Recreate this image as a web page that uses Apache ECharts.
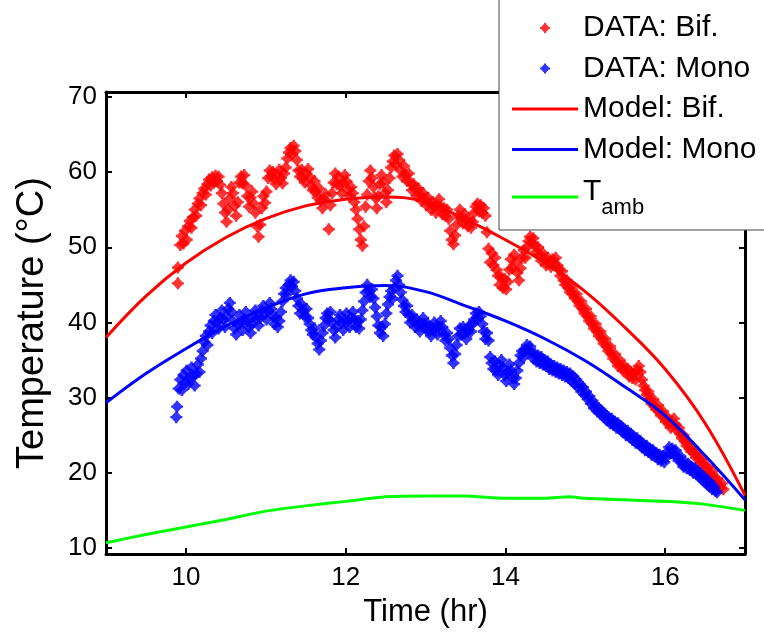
<!DOCTYPE html>
<html><head><meta charset="utf-8">
<script src="https://cdn.jsdelivr.net/npm/echarts@6/dist/echarts.min.js"></script>
<style>html,body{margin:0;padding:0;background:#fff;}#c{width:764px;height:641px;}</style>
</head><body><div id="c"></div>
<script>
// ---- data ----
var xTicks = [10, 12, 14, 16];
var yTicks = [10, 20, 30, 40, 50, 60, 70];

var dataBif = [
[9.90,45.2],[9.90,47.3],[9.93,50.3],[9.95,51.5],[9.97,50.5],[9.99,52.2],[10.01,51.0],[10.03,52.8],[10.05,53.5],[10.07,52.6],
[10.09,54.0],[10.11,55.0],[10.13,54.2],[10.15,55.8],[10.17,56.5],[10.19,55.6],[10.21,57.2],[10.23,57.8],[10.25,57.0],[10.27,58.4],
[10.29,59.0],[10.31,58.2],[10.33,59.3],[10.35,58.6],[10.37,59.5],[10.39,58.8],[10.41,59.4],[10.43,58.3],[10.45,57.2],[10.47,55.8],
[10.49,54.6],[10.51,53.4],[10.53,55.0],[10.55,56.5],[10.57,58.0],[10.59,57.2],[10.61,55.5],[10.63,54.2],[10.65,56.0],[10.67,58.6],
[10.69,59.4],[10.71,58.5],[10.73,59.6],[10.75,58.2],[10.77,56.8],[10.79,55.4],[10.81,56.6],[10.83,57.4],[10.85,55.8],[10.87,54.6],
[10.89,52.8],[10.91,51.4],[10.93,53.0],[10.95,55.2],[10.97,56.8],[10.99,55.9],[11.01,57.4],[11.03,59.2],[11.05,60.2],[11.07,59.4],
[11.09,60.0],[11.11,59.1],[11.13,58.4],[11.15,59.6],[11.17,60.3],[11.19,59.2],[11.21,58.5],[11.23,59.8],[11.25,60.6],[11.27,61.8],
[11.29,62.6],[11.31,63.2],[11.33,62.4],[11.35,63.5],[11.37,62.8],[11.39,61.6],[11.41,60.2],[11.43,59.4],[11.45,60.3],[11.47,59.2],
[11.49,58.6],[11.51,59.8],[11.53,60.4],[11.55,59.3],[11.57,58.2],[11.59,57.6],[11.61,58.8],[11.63,57.4],[11.65,56.6],[11.67,57.8],
[11.69,56.2],[11.71,55.2],[11.73,56.4],[11.75,57.0],[11.79,52.4],[11.81,55.6],[11.83,57.2],[11.85,58.6],[11.87,59.8],[11.89,58.4],
[11.91,59.4],[11.93,58.2],[11.95,57.2],[11.97,58.6],[11.99,59.6],[12.01,58.8],[12.03,57.6],[12.05,56.8],[12.07,58.0],[12.09,57.2],
[12.11,56.0],[12.13,55.0],[12.15,53.8],[12.17,52.4],[12.19,51.0],[12.21,50.2],[12.23,52.8],[12.25,55.4],[12.27,57.0],[12.29,58.8],
[12.31,60.2],[12.33,59.2],[12.35,58.0],[12.37,56.6],[12.39,55.2],[12.41,56.8],[12.43,58.4],[12.45,59.6],[12.47,58.6],[12.49,57.2],
[12.51,56.0],[12.53,57.6],[12.55,59.2],[12.57,60.6],[12.59,61.4],[12.61,62.2],[12.63,61.0],[12.65,62.4],[12.67,61.6],[12.69,60.2],
[12.71,59.4],[12.73,60.8],[12.75,59.6],[12.77,58.8],[12.79,59.8],[12.81,58.6],[12.83,57.6],[12.85,58.4],[12.87,57.8],[12.89,56.8],
[12.91,57.8],[12.93,57.0],[12.95,56.2],[12.97,57.2],[12.99,56.4],[13.01,55.6],[13.03,56.6],[13.05,55.8],[13.07,55.0],[13.09,56.0],
[13.11,55.4],[13.13,54.6],[13.15,55.6],[13.17,56.4],[13.19,55.4],[13.21,54.4],[13.23,55.2],[13.25,54.2],[13.27,55.0],[13.29,53.8],
[13.31,52.2],[13.33,51.0],[13.35,50.4],[13.37,51.6],[13.39,53.0],[13.41,54.2],[13.43,55.0],[13.45,54.0],[13.47,53.2],[13.49,54.4],
[13.51,53.6],[13.53,52.8],[13.55,53.6],[13.57,52.6],[13.59,53.4],[13.61,54.6],[13.63,55.4],[13.65,55.8],[13.67,54.8],[13.69,55.6],
[13.71,54.6],[13.73,55.2],[13.75,54.2],[13.77,52.0],[13.79,49.8],[13.81,48.0],[13.83,49.2],[13.85,47.6],[13.87,48.6],[13.89,47.0],
[13.91,46.2],[13.93,45.0],[13.95,46.0],[13.97,44.6],[13.99,45.8],[14.01,44.4],[14.03,45.4],[14.05,47.0],[14.07,48.4],[14.09,47.2],
[14.11,49.0],[14.13,48.0],[14.15,46.6],[14.17,45.6],[14.19,47.2],[14.21,48.6],[14.23,49.6],[14.25,48.6],[14.27,50.0],[14.29,50.8],
[14.31,51.4],[14.33,50.6],[14.35,51.2],[14.37,50.2],[14.39,49.4],[14.41,50.0],[14.43,49.0],[14.45,48.2],[14.47,49.2],[14.49,48.4],
[14.51,47.6],[14.53,48.6],[14.55,48.0],[14.57,47.4],[14.59,48.4],[14.61,47.8],[14.63,48.6],[14.65,47.6],[14.67,47.0],[14.69,46.2],
[14.71,46.8],[14.73,45.6],[14.75,45.0],[14.77,45.6],[14.79,44.6],[14.81,44.0],[14.83,44.8],[14.85,43.8],[14.87,43.2],[14.89,43.8],
[14.91,42.8],[14.93,42.2],[14.95,42.8],[14.97,41.8],[14.99,41.2],[15.01,41.8],[15.03,40.8],[15.05,40.2],[15.07,40.8],[15.09,39.8],
[15.11,39.2],[15.13,39.8],[15.15,38.8],[15.17,38.2],[15.19,38.8],[15.21,37.8],[15.23,37.2],[15.25,37.8],[15.27,36.8],[15.29,36.2],
[15.31,36.8],[15.33,35.8],[15.35,35.2],[15.37,35.8],[15.39,34.8],[15.41,34.2],[15.43,35.0],[15.45,34.2],[15.47,33.6],[15.49,34.2],
[15.51,33.4],[15.53,33.8],[15.55,32.8],[15.57,33.4],[15.59,32.6],[15.61,33.2],[15.63,32.4],[15.65,33.6],[15.67,34.2],[15.69,33.4],
[15.71,32.4],[15.73,31.6],[15.75,31.0],[15.77,30.4],[15.79,30.8],[15.81,29.8],[15.83,29.2],[15.85,29.8],[15.87,28.8],[15.89,28.4],
[15.91,29.0],[15.93,28.2],[15.95,27.6],[15.97,28.2],[15.99,27.4],[16.01,26.8],[16.03,27.4],[16.05,26.6],[16.07,26.0],[16.09,26.6],
[16.11,27.2],[16.13,26.4],[16.15,25.6],[16.17,26.0],[16.19,25.2],[16.21,24.6],[16.23,25.0],[16.25,24.2],[16.27,23.6],[16.29,24.0],
[16.31,23.2],[16.33,22.8],[16.35,23.4],[16.37,22.6],[16.39,22.0],[16.41,22.6],[16.43,21.8],[16.45,21.2],[16.47,21.8],[16.49,21.0],
[16.51,20.4],[16.53,20.8],[16.55,20.0],[16.57,19.6],[16.59,20.2],[16.61,19.4],[16.63,18.8],[16.65,19.2],[16.67,18.4],[16.69,18.0],
[16.71,18.6],[16.73,17.8]
];

var dataMono = [
[9.88,27.4],[9.89,28.8],[9.91,31.2],[9.93,32.4],[9.95,31.0],[9.97,33.0],[9.99,32.0],[10.01,33.6],[10.03,31.8],[10.05,32.6],
[10.07,34.0],[10.09,32.8],[10.11,31.6],[10.13,33.2],[10.15,34.4],[10.17,33.4],[10.19,35.2],[10.21,36.2],[10.23,37.4],[10.25,38.2],
[10.27,37.0],[10.29,38.8],[10.31,39.6],[10.33,38.6],[10.35,40.2],[10.37,41.0],[10.39,40.0],[10.41,39.2],[10.43,40.6],[10.45,41.6],
[10.47,40.4],[10.49,39.4],[10.51,40.8],[10.53,41.8],[10.55,42.6],[10.57,41.4],[10.59,40.2],[10.61,39.2],[10.63,38.4],[10.65,39.8],
[10.67,41.0],[10.69,40.0],[10.71,39.0],[10.73,40.4],[10.75,41.4],[10.77,40.2],[10.79,39.4],[10.81,38.6],[10.83,39.8],[10.85,40.8],
[10.87,41.6],[10.89,40.6],[10.91,39.6],[10.93,40.6],[10.95,41.6],[10.97,42.2],[10.99,41.2],[11.01,40.4],[11.03,41.6],[11.05,42.6],
[11.07,41.8],[11.09,40.8],[11.11,39.8],[11.13,40.6],[11.15,39.4],[11.17,40.2],[11.19,41.4],[11.21,42.8],[11.23,43.8],[11.25,44.6],
[11.27,43.8],[11.29,45.0],[11.31,45.6],[11.33,44.8],[11.35,45.4],[11.37,44.2],[11.39,43.2],[11.41,42.2],[11.43,41.2],[11.45,42.4],
[11.47,41.6],[11.49,40.8],[11.51,41.8],[11.53,40.6],[11.55,39.8],[11.57,39.0],[11.59,38.4],[11.61,39.2],[11.63,38.0],[11.65,37.2],
[11.67,36.4],[11.69,37.6],[11.71,38.6],[11.73,39.6],[11.75,40.6],[11.77,41.2],[11.79,40.4],[11.81,41.4],[11.83,40.0],[11.85,39.0],
[11.87,38.0],[11.89,39.4],[11.91,40.4],[11.93,41.0],[11.95,40.0],[11.97,39.0],[11.99,40.2],[12.01,41.2],[12.03,40.2],[12.05,39.4],
[12.07,40.6],[12.09,41.4],[12.11,40.4],[12.13,39.4],[12.15,40.2],[12.17,39.2],[12.19,40.4],[12.21,41.6],[12.23,42.8],[12.25,44.0],
[12.27,45.0],[12.29,44.2],[12.31,43.4],[12.33,44.4],[12.35,43.2],[12.37,42.0],[12.39,40.8],[12.41,39.6],[12.43,38.6],[12.45,39.4],
[12.47,38.2],[12.49,39.8],[12.51,41.2],[12.53,42.4],[12.55,43.4],[12.57,44.2],[12.59,43.2],[12.61,44.6],[12.63,45.6],[12.65,46.2],
[12.67,45.0],[12.69,44.0],[12.71,43.0],[12.73,42.2],[12.75,41.4],[12.77,42.2],[12.79,41.0],[12.81,40.0],[12.83,41.0],[12.85,40.2],
[12.87,39.4],[12.89,40.4],[12.91,39.6],[12.93,38.8],[12.95,39.8],[12.97,40.6],[12.99,39.8],[13.01,39.0],[13.03,39.8],[13.05,38.8],
[13.07,38.2],[13.09,39.2],[13.11,40.0],[13.13,39.2],[13.15,38.4],[13.17,39.4],[13.19,40.2],[13.21,39.4],[13.23,38.4],[13.25,37.6],
[13.27,38.6],[13.29,37.8],[13.31,36.6],[13.33,35.6],[13.35,34.6],[13.37,35.8],[13.39,37.0],[13.41,38.2],[13.43,39.2],[13.45,38.4],
[13.47,39.4],[13.49,38.6],[13.51,37.8],[13.53,38.8],[13.55,39.6],[13.57,38.8],[13.59,39.8],[13.61,40.4],[13.63,41.2],[13.65,40.6],
[13.67,41.4],[13.69,40.8],[13.71,39.8],[13.73,38.8],[13.75,37.8],[13.77,38.6],[13.79,37.6],[13.81,35.4],[13.83,34.6],[13.85,33.8],
[13.87,34.8],[13.89,33.6],[13.91,33.0],[13.93,34.2],[13.95,35.0],[13.97,34.0],[13.99,33.0],[14.01,32.2],[14.03,33.4],[14.05,34.4],
[14.07,33.6],[14.09,32.6],[14.11,31.8],[14.13,32.6],[14.15,33.6],[14.17,34.6],[14.19,35.6],[14.21,36.2],[14.23,35.4],[14.25,36.4],
[14.27,37.0],[14.29,36.2],[14.31,36.8],[14.33,36.0],[14.35,35.2],[14.37,35.8],[14.39,34.8],[14.41,35.6],[14.43,34.6],[14.45,35.4],
[14.47,34.4],[14.49,35.0],[14.51,34.2],[14.53,34.8],[14.55,33.8],[14.57,34.4],[14.59,33.6],[14.61,34.2],[14.63,33.4],[14.65,34.0],
[14.67,33.2],[14.69,33.8],[14.71,33.0],[14.73,33.6],[14.75,32.8],[14.77,33.4],[14.79,32.6],[14.81,33.2],[14.83,32.2],[14.85,32.8],
[14.87,31.8],[14.89,32.4],[14.91,31.4],[14.93,31.8],[14.95,30.8],[14.97,31.4],[14.99,30.4],[15.01,30.8],[15.03,29.8],[15.05,30.2],
[15.07,29.2],[15.09,29.6],[15.11,28.6],[15.13,29.0],[15.15,28.2],[15.17,28.6],[15.19,27.8],[15.21,28.2],[15.23,27.4],[15.25,27.8],
[15.27,27.0],[15.29,27.4],[15.31,26.6],[15.33,27.2],[15.35,26.4],[15.37,26.8],[15.39,26.0],[15.41,26.6],[15.43,25.8],[15.45,26.2],
[15.47,25.4],[15.49,25.8],[15.51,25.0],[15.53,25.6],[15.55,24.8],[15.57,25.2],[15.59,24.4],[15.61,24.8],[15.63,24.0],[15.65,24.6],
[15.67,23.8],[15.69,24.2],[15.71,23.4],[15.73,23.8],[15.75,23.0],[15.77,23.6],[15.79,22.8],[15.81,23.2],[15.83,22.4],[15.85,23.0],
[15.87,22.2],[15.89,22.6],[15.91,21.8],[15.93,22.4],[15.95,21.6],[15.97,22.2],[15.99,21.4],[16.01,22.0],[16.03,22.8],[16.05,23.4],
[16.07,22.6],[16.09,23.2],[16.11,22.4],[16.13,23.0],[16.15,22.2],[16.17,21.6],[16.19,22.2],[16.21,21.4],[16.23,20.8],[16.25,21.4],
[16.27,20.6],[16.29,21.2],[16.31,20.4],[16.33,20.8],[16.35,20.0],[16.37,20.6],[16.39,19.8],[16.41,20.2],[16.43,19.4],[16.45,19.8],
[16.47,19.0],[16.49,19.4],[16.51,18.6],[16.53,19.0],[16.55,18.2],[16.57,18.6],[16.59,17.8],[16.61,18.2],[16.63,17.6],[16.65,17.4]
];

var modelBifT = [9.0, 9.5, 10.0, 10.5, 11.0, 11.5, 12.0, 12.5, 13.0, 13.5, 14.0, 14.5, 15.0, 15.5, 16.0, 16.5, 17.0];
var modelBifV = [38.0, 43.5, 47.9, 51.3, 53.8, 55.5, 56.4, 56.7, 56.0, 53.7, 51.0, 47.9, 44.1, 39.3, 33.8, 26.6, 17.0];

var modelMonoT = [9.0, 9.5, 10.0, 10.5, 11.0, 11.5, 12.0, 12.5, 13.0, 13.5, 14.0, 14.5, 15.0, 15.5, 16.0, 16.5, 17.0];
var modelMonoV = [29.3, 33.2, 36.5, 39.5, 41.9, 43.8, 44.6, 44.9, 44.1, 42.2, 40.2, 37.8, 34.9, 31.4, 27.6, 22.3, 16.4];

var ambT = [9.0, 9.5, 10.0, 10.5, 11.0, 11.5, 12.0, 12.5, 13.0, 13.5, 14.0, 14.5, 14.8, 15.0, 15.5, 16.0, 16.5, 17.0];
var ambV = [10.7, 11.8, 12.8, 13.8, 14.9, 15.6, 16.2, 16.8, 16.9, 16.9, 16.6, 16.6, 16.8, 16.6, 16.4, 16.2, 15.8, 15.0];

function pairs(t, v) { return t.map(function (x, i) { return [x, v[i]]; }); }

var FONT = 'Liberation Sans, Arial, Helvetica, sans-serif';
var MARK = 'path://M4,0 H6 V1 L9,4 H10 V6 H9 L6,9 V10 H4 V9 L1,6 H0 V4 H1 L4,1 Z';
var LINE_ICON = 'path://M0,0 H66 V3 H0 Z';

var chart = echarts.init(document.getElementById('c'), null, {renderer: 'canvas'});
var axisLineStyle = {color: '#000', width: 3};
var option = {
  animation: false,
  backgroundColor: '#fff',
  textStyle: {fontFamily: FONT, color: '#000'},
  grid: {left: 106, right: 19, top: 92, bottom: 87},
  legend: {
    orient: 'vertical',
    left: 499, top: -2,
    padding: [15, 30, 11, 13],
    itemWidth: 66, itemHeight: 10, itemGap: 10.5,
    backgroundColor: '#fff',
    borderColor: '#444', borderWidth: 1,
    textStyle: {fontSize: 30, lineHeight: 30, color: '#000', fontFamily: FONT,
      rich: {
        t: {fontSize: 30, lineHeight: 30, padding: [0, 0, 10, 0], fontFamily: FONT, color: '#000'},
        s: {fontSize: 22, lineHeight: 22, padding: [22, 0, 0, 0], fontFamily: FONT, color: '#000'}
      }},
    formatter: function (name) {
      if (name === 'T_amb') return '{t|T}{s|amb}';
      return name;
    },
    data: [
      {name: 'DATA: Bif.'},
      {name: 'DATA: Mono'},
      {name: 'Model: Bif.', icon: LINE_ICON},
      {name: 'Model: Mono', icon: LINE_ICON},
      {name: 'T_amb', icon: LINE_ICON}
    ]
  },
  xAxis: [{
    type: 'value', min: 9, max: 17, position: 'bottom',
    name: 'Time (hr)', nameLocation: 'middle', nameGap: 43,
    nameTextStyle: {fontSize: 31, color: '#000', fontFamily: FONT},
    axisLine: {show: true, onZero: false, lineStyle: axisLineStyle},
    axisTick: {show: true, inside: true, length: 6, lineStyle: {color: '#000', width: 2}, customValues: xTicks},
    axisLabel: {show: true, fontSize: 26, color: '#000', margin: 11, fontFamily: FONT, customValues: xTicks},
    splitLine: {show: false}
  }, {
    type: 'value', min: 9, max: 17, position: 'top',
    axisLine: {show: true, onZero: false, lineStyle: axisLineStyle},
    axisTick: {show: true, inside: true, length: 6, lineStyle: {color: '#000', width: 2}, customValues: xTicks},
    axisLabel: {show: false},
    splitLine: {show: false}
  }],
  yAxis: [{
    type: 'value', min: 9.2, max: 70.65, position: 'left',
    name: 'Temperature (°C)', nameLocation: 'middle', nameGap: 54,
    nameTextStyle: {fontSize: 38, color: '#000', fontFamily: FONT},
    axisLine: {show: true, onZero: false, lineStyle: axisLineStyle},
    axisTick: {show: true, inside: true, length: 6, lineStyle: {color: '#000', width: 2}, customValues: yTicks},
    axisLabel: {show: true, fontSize: 26, color: '#000', margin: 9, fontFamily: FONT, customValues: yTicks},
    splitLine: {show: false}
  }, {
    type: 'value', min: 9.2, max: 70.65, position: 'right',
    axisLine: {show: true, onZero: false, lineStyle: axisLineStyle},
    axisTick: {show: true, inside: true, length: 6, lineStyle: {color: '#000', width: 2}, customValues: yTicks},
    axisLabel: {show: false},
    splitLine: {show: false}
  }],
  series: [
    {name: 'DATA: Bif.', type: 'scatter', data: dataBif, symbol: MARK, symbolSize: 12,
     itemStyle: {color: '#ff0000'}, xAxisIndex: 0, yAxisIndex: 0, z: 2},
    {name: 'DATA: Mono', type: 'scatter', data: dataMono, symbol: MARK, symbolSize: 12,
     itemStyle: {color: '#0000ff'}, xAxisIndex: 0, yAxisIndex: 0, z: 2},
    {name: 'Model: Bif.', type: 'line', data: pairs(modelBifT, modelBifV), smooth: 0.4, symbol: 'none', showSymbol: false,
     lineStyle: {color: '#ff0000', width: 3}, itemStyle: {color: '#ff0000'}, z: 3},
    {name: 'Model: Mono', type: 'line', data: pairs(modelMonoT, modelMonoV), smooth: 0.4, symbol: 'none', showSymbol: false,
     lineStyle: {color: '#0000ff', width: 3}, itemStyle: {color: '#0000ff'}, z: 3},
    {name: 'T_amb', type: 'line', data: pairs(ambT, ambV), smooth: 0.2, symbol: 'none', showSymbol: false,
     lineStyle: {color: '#00ff00', width: 3}, itemStyle: {color: '#00ff00'}, z: 3}
  ]
};
chart.setOption(option);
</script>
</body></html>
